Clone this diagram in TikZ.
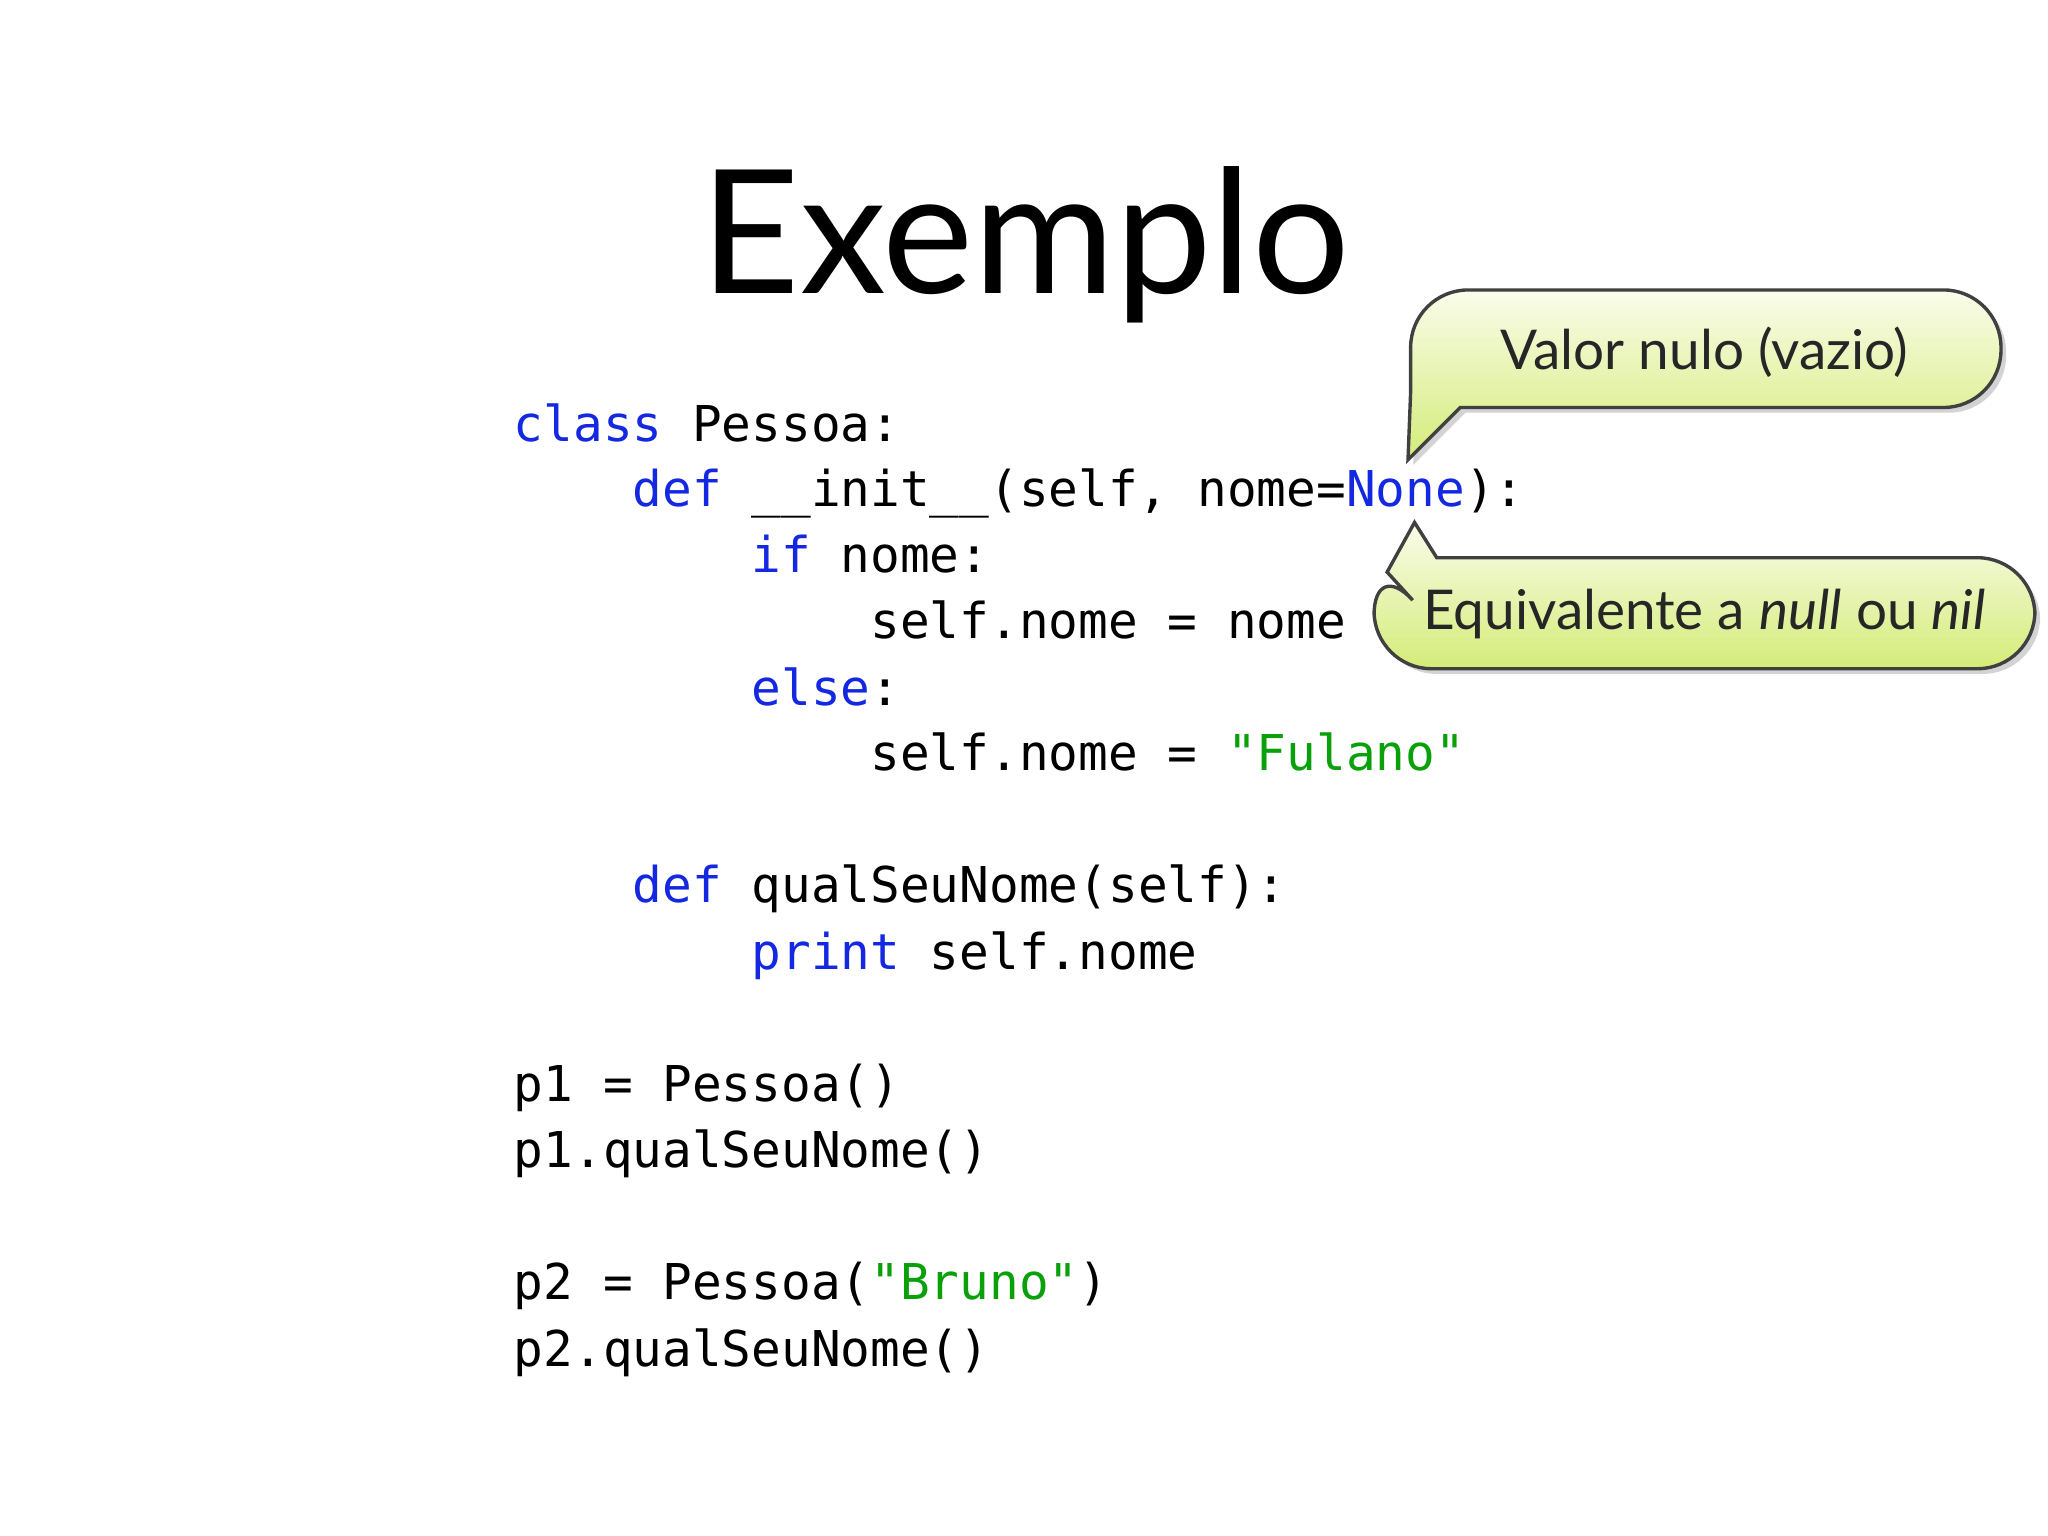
\documentclass[tikz,border=0pt]{standalone}
\usepackage{fontspec}
\setmainfont{Lato}
\setmonofont{DejaVu Sans Mono}
\usetikzlibrary{shadows}
\definecolor{kw}{RGB}{20,40,225}
\definecolor{str}{RGB}{10,160,10}
\definecolor{bubtop}{RGB}{250,252,235}
\definecolor{bubbot}{RGB}{212,236,120}
\tikzset{
  code/.style={anchor=base west,inner sep=0pt,font=\fontsize{18.9}{22}\ttfamily},
  bubble/.style={draw=black!75,line width=1.3pt,top color=bubtop,bottom color=bubbot,
    drop shadow={shadow xshift=2pt,shadow yshift=-2pt,opacity=0.35}},
  btext/.style={font=\fontsize{21}{24}\selectfont,text=black!85}
}
\newcommand{\kw}[1]{\textcolor{kw}{#1}}
\newcommand{\str}[1]{\textcolor{str}{#1}}
\begin{document}
\begin{tikzpicture}[x=0.5pt,y=-0.5pt]
\useasboundingbox (0,0) rectangle (1568,1176);
\node[anchor=base,inner sep=0pt,font=\fontsize{66}{70}\selectfont] (title) at (785,225) {Exemplo};
\node[code] (l1) at (393,338) {\kw{class} Pessoa:};
\node[code] (l2) at (393,388) {\phantom{xxxx}\kw{def} \_\_init\_\_(self, nome=\kw{None}):};
\node[code] (l3) at (393,438) {\phantom{xxxxxxxx}\kw{if} nome:};
\node[code] (l4) at (393,489) {\phantom{xxxxxxxxxxxx}self.nome = nome};
\node[code] (l5) at (393,540) {\phantom{xxxxxxxx}\kw{else}:};
\node[code] (l6) at (393,590) {\phantom{xxxxxxxxxxxx}self.nome = \str{"Fulano"}};
\node[code] (l7) at (393,691) {\phantom{xxxx}\kw{def} qualSeuNome(self):};
\node[code] (l8) at (393,742) {\phantom{xxxxxxxx}\kw{print} self.nome};
\node[code] (l9) at (393,843) {p1 = Pessoa()};
\node[code] (l10) at (393,894) {p1.qualSeuNome()};
\node[code] (l11) at (393,995) {p2 = Pessoa(\str{"Bruno"})};
\node[code] (l12) at (393,1046) {p2.qualSeuNome()};
% bubble 1
\path[bubble] (1078,352) -- (1080,300) [rounded corners=22] -- (1080,222) -- (1532,222) -- (1532,312) [sharp corners] -- (1118,312) -- cycle;
\node[btext] (b1) at (1305,270) {Valor nulo (vazio)};
% bubble 2
\path[bubble] (1083,400) -- (1100,427) [rounded corners=22] -- (1558,427) -- (1558,512) -- (1052,512) -- (1052,427) [sharp corners] -- (1062,438) -- cycle;
\node[btext] (b2) at (1305,470) {Equivalente a \textit{null} ou \textit{nil}};
\end{tikzpicture}
\end{document}
